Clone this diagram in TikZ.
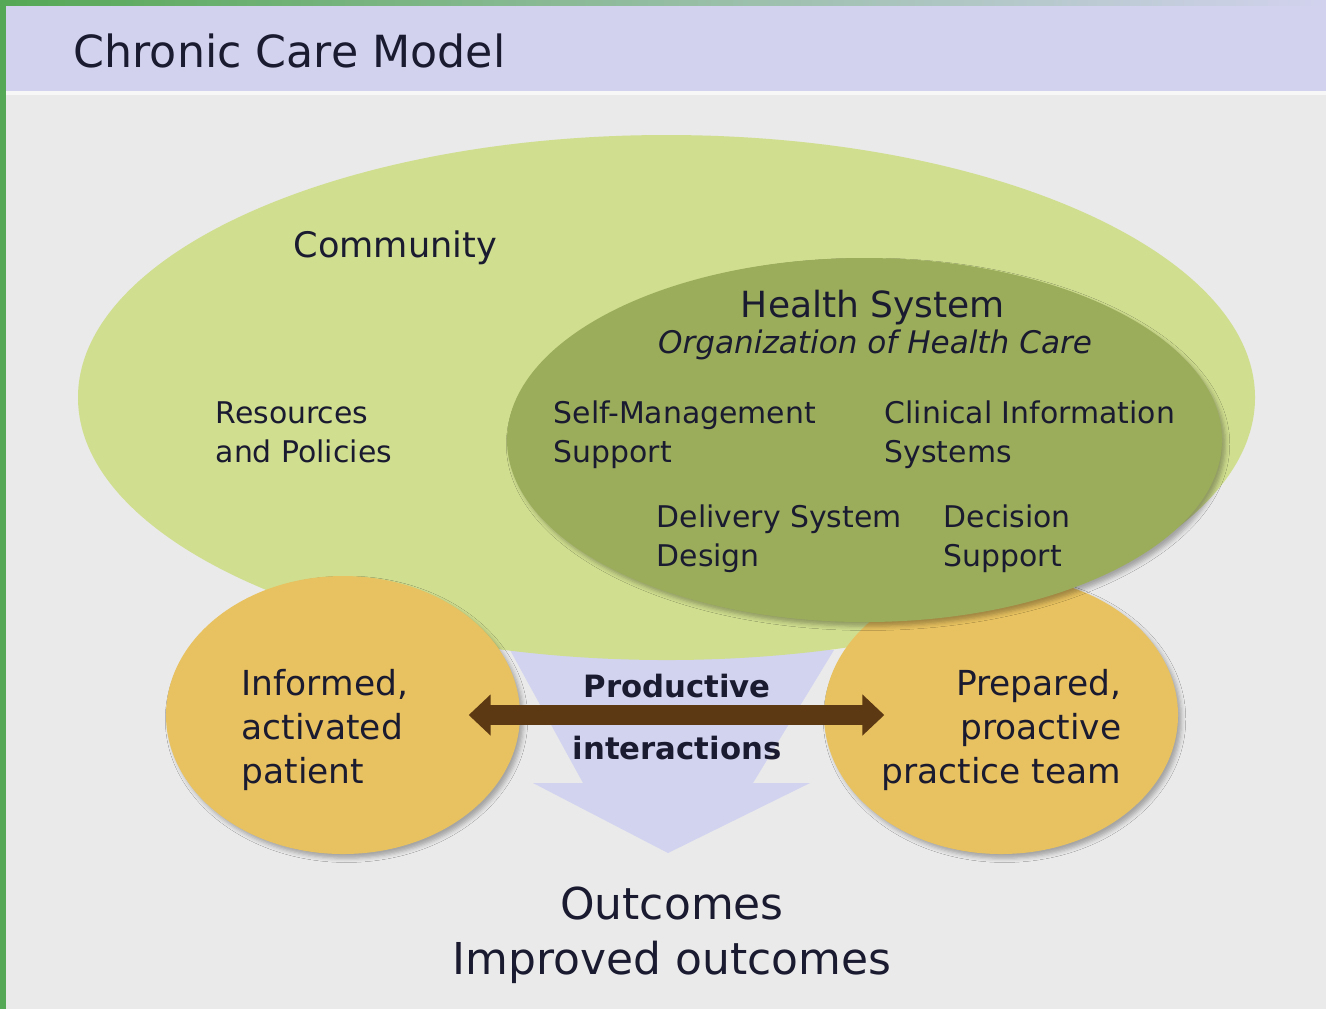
\documentclass[tikz,border=0pt]{standalone}
\usepackage{fontspec}
\setmainfont{DejaVu Sans}
\usetikzlibrary{shapes.geometric,arrows.meta,shadows.blur}

\definecolor{bggrey}{HTML}{EAEAEA}
\definecolor{headband}{HTML}{D2D2EE}
\definecolor{sidegreen}{HTML}{55A855}
\definecolor{commgreen}{HTML}{CFDE8F}
\definecolor{healthgreen}{HTML}{9BAD5B}
\definecolor{patientgold}{HTML}{E8C260}
\definecolor{funnelblue}{HTML}{D2D3EF}
\definecolor{arrowbrown}{HTML}{5C3813}
\definecolor{inktext}{HTML}{1A1A30}

\newcommand{\labelfont}{\fontsize{8.5}{11.1}\selectfont}
\newcommand{\circlefont}{\fontsize{9.8}{12.4}\selectfont}

\tikzset{
        softshadow/.style={blur shadow={shadow xshift=1pt, shadow yshift=-1.2pt, shadow blur radius=1.2pt, shadow opacity=30}},
        tipbig/.tip={Triangle[length=0.22cm, width=0.40cm]}
}

\begin{document}
\begin{tikzpicture}
        \useasboundingbox (0,0) rectangle (13.26,-10.09);
        % slide frame
        \fill[bggrey] (0,0) rectangle (13.26,-10.09);
        \fill[headband] (0,-0.04) rectangle (13.26,-0.91);
        \fill[white!60!bggrey] (0,-0.91) rectangle (13.26,-0.95);
        \shade[left color=sidegreen, right color=headband] (0,0) rectangle (13.26,-0.05);
        \fill[sidegreen] (0,0) rectangle (0.06,-10.09);
        \node[anchor=base west, inner sep=0, text=inktext, font=\fontsize{12.6}{15}\selectfont] (title) at (0.73,-0.67) {Chronic Care Model};

        % big arrow down to the outcomes
        \fill[funnelblue] (5.10,-6.50) -- (8.34,-6.50) -- (7.53,-7.83) -- (8.10,-7.83) -- (6.68,-8.53) -- (5.33,-7.83) -- (5.83,-7.83) -- cycle;

        \begin{scope}[every node/.style={ellipse, inner sep=0}]
                \node[fill=commgreen, minimum width=11.77cm, minimum height=5.25cm] (community) at (6.665,-3.975) {};
                \node[fill=patientgold, softshadow, minimum width=3.54cm, minimum height=2.78cm] (patient) at (3.43,-7.15) {};
                \node[fill=patientgold, softshadow, minimum width=3.54cm, minimum height=2.78cm] (team) at (10.01,-7.15) {};
                \node[fill=healthgreen, softshadow, minimum width=7.15cm, minimum height=3.64cm] (health) at (8.645,-4.40) {};
        \end{scope}

        \begin{scope}[every node/.style={inner sep=0, text=inktext, align=left, font=\labelfont}]
                \node[anchor=base west, font=\fontsize{10}{12}\selectfont] (commlabel) at (2.93,-2.57) {Community};
                \node[anchor=base west] (resources) at (2.15,-4.62) {Resources\\and Policies};

                \node[anchor=base, font=\fontsize{10.25}{12}\selectfont] (healthlabel) at (8.73,-3.17) {Health System};
                \node[anchor=base, font=\fontsize{8.85}{11}\selectfont\itshape] (orglabel) at (8.75,-3.53) {Organization of Health Care};
                \node[anchor=base west] (selfmgmt) at (5.53,-4.62) {Self-Management\\Support};
                \node[anchor=base west] (clinical) at (8.84,-4.62) {Clinical Information\\Systems};
                \node[anchor=base west] (delivery) at (6.56,-5.66) {Delivery System\\Design};
                \node[anchor=base west] (decision) at (9.43,-5.66) {Decision\\Support};

                \node[anchor=base west, font=\circlefont] (patientlabel) at (2.41,-7.83) {Informed,\\activated\\patient};
                \node[anchor=base east, align=right, font=\circlefont] (teamlabel) at (11.22,-7.83) {Prepared,\\proactive\\practice team};

                \node[anchor=base, font=\fontsize{8.75}{11}\selectfont\bfseries] (productive) at (6.77,-6.97) {Productive};
                \node[anchor=base, font=\fontsize{8.75}{11}\selectfont\bfseries] (interactions) at (6.77,-7.59) {interactions};

                \node[anchor=base, align=center, font=\fontsize{12.5}{15.6}\selectfont] (outcomes) at (6.72,-9.74) {Outcomes\\Improved outcomes};
        \end{scope}

        \begin{scope}[every path/.style={line width=0.2cm, arrowbrown, {tipbig}-{tipbig}}]
                \path (patient) edge[shorten <=-0.52cm, shorten >=-0.61cm] (team);
        \end{scope}
\end{tikzpicture}
\end{document}
